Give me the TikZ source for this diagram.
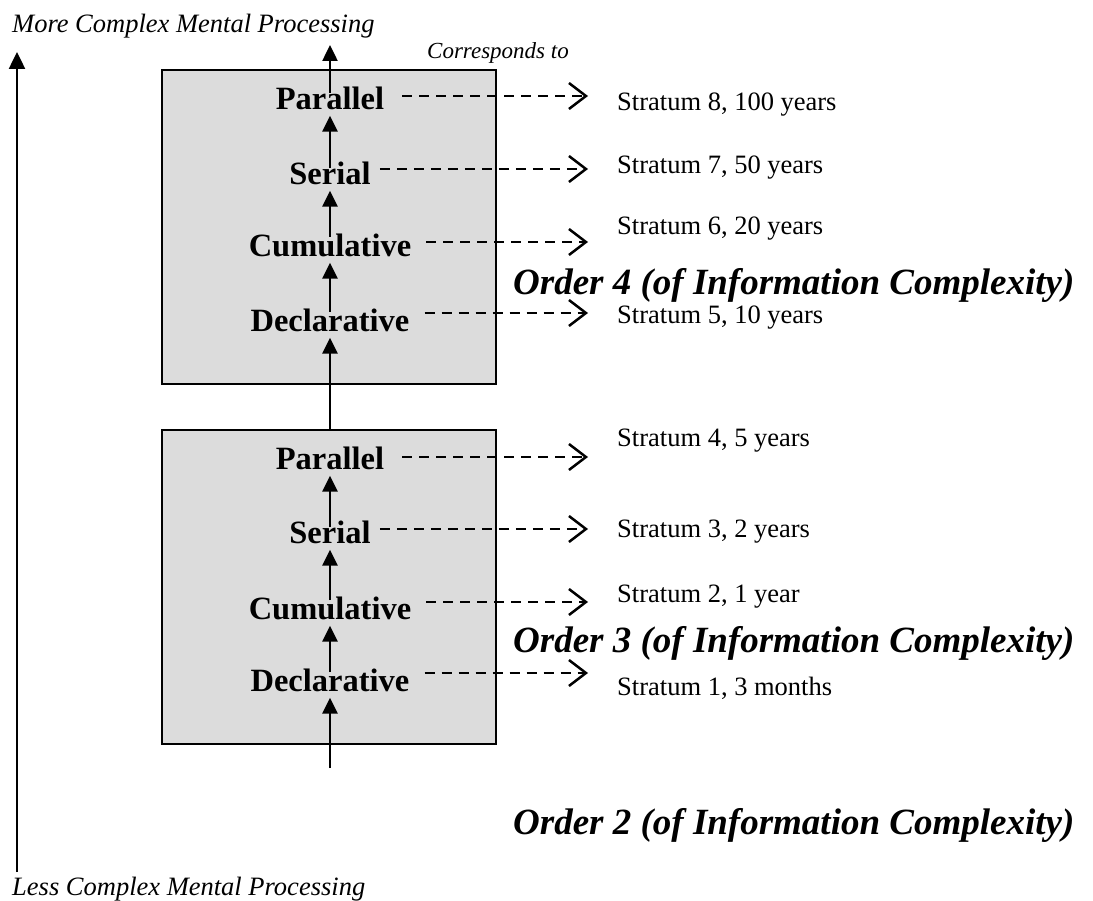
\documentclass[tikz,border=0pt]{standalone}
\usepackage{fontspec}
\setmainfont{Liberation Serif}
\usetikzlibrary{arrows.meta}
\definecolor{boxgray}{RGB}{220,220,220}
\begin{document}
\begin{tikzpicture}[x=1pt,y=-1pt,
  box/.style={draw=black,line width=2.5pt,fill=boxgray,inner sep=0pt,minimum width=334pt,minimum height=314pt},
  lvl/.style={font=\fontsize{32.5}{36}\selectfont\bfseries,inner sep=0pt},
  strat/.style={font=\fontsize{26.5}{30}\selectfont,inner sep=0pt,anchor=west},
  order/.style={font=\fontsize{37}{42}\selectfont\bfseries\itshape,inner sep=0pt,anchor=west},
  axislbl/.style={font=\fontsize{26.5}{30}\selectfont\itshape,inner sep=0pt,anchor=base west},
  uparrow/.style={line width=2.5pt,-{Triangle[length=16pt,width=15pt]},shorten >=6pt},
  axisarrow/.style={line width=2.5pt,-{Triangle[length=17pt,width=16pt]}},
  corr/.style={line width=2.5pt,dash pattern=on 10pt off 7pt,-{Straight Barb[length=17pt,width=26pt,line width=2.5pt]}},
]
\useasboundingbox (0,0) rectangle (1093,901);

% boxes
\node[box] (upper) at (329,227) {};
\node[box] (lower) at (329,587) {};

% level labels
\node[lvl] (par4) at (330,98) {Parallel};
\node[lvl] (ser4) at (330,173) {Serial};
\node[lvl] (cum4) at (330,245) {Cumulative};
\node[lvl] (dec4) at (330,320) {Declarative};
\node[lvl] (par3) at (330,458) {Parallel};
\node[lvl] (ser3) at (330,532) {Serial};
\node[lvl] (cum3) at (330,608) {Cumulative};
\node[lvl] (dec3) at (330,680) {Declarative};

% vertical flow
\coordinate (start) at (330,768);
\coordinate (top) at (330,45);
\draw[uparrow] (start) -- (dec3.south);
\draw[uparrow] ([yshift=8pt]dec3.center) -- (cum3.south);
\draw[uparrow] ([yshift=8pt]cum3.center) -- (ser3.south);
\draw[uparrow] ([yshift=5pt]ser3.center) -- (par3.south);
\draw[uparrow] (lower.north -| dec4.south) -- (dec4.south);
\draw[uparrow] ([yshift=8pt]dec4.center) -- (cum4.south);
\draw[uparrow] ([yshift=8pt]cum4.center) -- (ser4.south);
\draw[uparrow] ([yshift=5pt]ser4.center) -- (par4.south);
\draw[uparrow,shorten >=0pt] ([yshift=5pt]par4.center) -- (top);

% left axis
\coordinate (ab) at (17,872);
\coordinate (at) at (17,52);
\draw[axisarrow] (ab) -- (at);
\node[axislbl] (more) at (12,33) {More Complex Mental Processing};
\node[axislbl] (less) at (12,895) {Less Complex Mental Processing};
\node[axislbl,font=\fontsize{23}{26}\selectfont\itshape] (corrlbl) at (427,59) {Corresponds to};

% corresponds-to arrow ends
\coordinate (e8) at (588,96);
\coordinate (e7) at (588,169);
\coordinate (e6) at (588,242);
\coordinate (e5) at (588,313);
\coordinate (e4) at (588,457);
\coordinate (e3) at (588,529);
\coordinate (e2) at (588,602);
\coordinate (e1) at (588,673);

\draw[corr,shorten <=18pt] (par4.east |- e8) -- (e8);
\draw[corr,shorten <=9pt]  (ser4.east |- e7) -- (e7);
\draw[corr,shorten <=15pt] (cum4.east |- e6) -- (e6);
\draw[corr,shorten <=15pt] (dec4.east |- e5) -- (e5);
\draw[corr,shorten <=18pt] (par3.east |- e4) -- (e4);
\draw[corr,shorten <=9pt]  (ser3.east |- e3) -- (e3);
\draw[corr,shorten <=15pt] (cum3.east |- e2) -- (e2);
\draw[corr,shorten <=15pt] (dec3.east |- e1) -- (e1);

% strata
\node[strat] (s8) at (617,105) {Stratum 8, 100 years};
\node[strat] (s7) at (617,168) {Stratum 7, 50 years};
\node[strat] (s6) at (617,229) {Stratum 6, 20 years};
\node[strat] (s5) at (617,318) {Stratum 5, 10 years};
\node[strat] (s4) at (617,441) {Stratum 4, 5 years};
\node[strat] (s3) at (617,532) {Stratum 3, 2 years};
\node[strat] (s2) at (617,597) {Stratum 2, 1 year};
\node[strat] (s1) at (617,688) {Stratum 1, 3 months};

% orders
\node[order] (o4) at (513,285) {Order 4 (of Information Complexity)};
\node[order] (o3) at (513,643) {Order 3 (of Information Complexity)};
\node[order] (o2) at (513,825) {Order 2 (of Information Complexity)};
\end{tikzpicture}
\end{document}
